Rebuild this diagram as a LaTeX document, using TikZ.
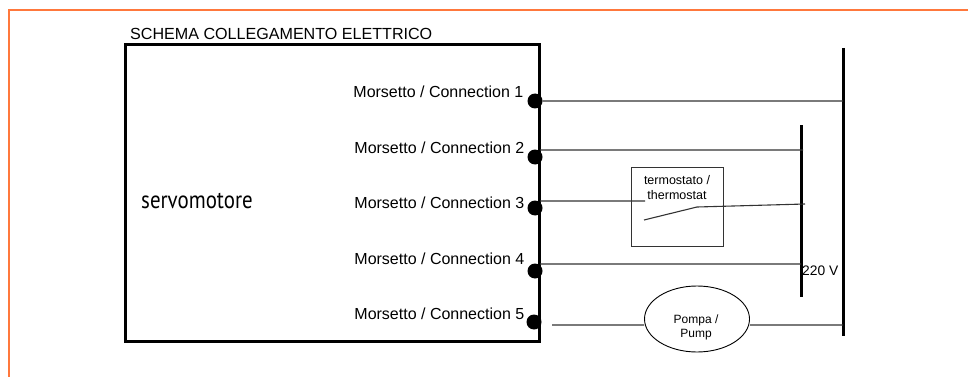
\documentclass[tikz,border=0pt]{standalone}
\usepackage{fontspec}
\setmainfont{Liberation Sans}
\newfontfamily\servofont[FakeStretch=0.85]{PT Sans}
\usetikzlibrary{positioning, calc, shapes.geometric}
\definecolor{framecol}{RGB}{255,120,60}

\begin{document}
\begin{tikzpicture}[x=1pt, y=-1pt,
    morsetto/.style={circle, fill=black, inner sep=0pt, minimum size=15pt},
    clabel/.style={font=\fontsize{16}{18}\selectfont, inner sep=0pt, anchor=east},
    wire/.style={draw=black!80, line width=1.1pt},
    bus/.style={draw=black, line width=3pt}
    ]
    \useasboundingbox (0,0) rectangle (968,377);
    \draw[framecol, line width=2pt] (968,10) -- (8.5,10) -- (8.5,377);

    \node[draw, line width=3pt, minimum width=414pt, minimum height=296pt, inner sep=0pt] (servo) at (332.5,193) {};
    \node[font=\fontsize{16.1}{18}\selectfont, inner sep=0pt, anchor=base west] (title) at (130,40) {SCHEMA COLLEGAMENTO ELETTRICO};
    \node[font=\servofont\fontsize{24.6}{26}\selectfont, inner sep=0pt, anchor=base west] (name) at (141,208) {servomotore};

    \node[morsetto] (T1) at (535,101) {};
    \node[morsetto] (T2) at (535,157) {};
    \node[morsetto] (T3) at (535,208) {};
    \node[morsetto] (T4) at (535,271) {};
    \node[morsetto] (T5) at (534,322) {};

    \node[clabel] (L1) at (523.5,92) {Morsetto / Connection 1};
    \node[clabel] (L2) at (524.5,147.5) {Morsetto / Connection 2};
    \node[clabel] (L3) at (524.5,203) {Morsetto / Connection 3};
    \node[clabel] (L4) at (524.5,258.5) {Morsetto / Connection 4};
    \node[clabel] (L5) at (524.5,314) {Morsetto / Connection 5};

    % the two supply bars
    \coordinate (BigTop) at (843,48);
    \coordinate (BigEnd) at (843,336);
    \coordinate (SmallTop) at (801,125);
    \coordinate (SmallEnd) at (801,297);
    \draw[bus] (BigTop) -- (BigEnd);
    \draw[bus] (SmallTop) -- (SmallEnd);
    \node[font=\fontsize{13.8}{15}\selectfont, inner sep=0pt, anchor=base west] (volt) at (802,275) {220 V};

    \node[draw=black!80, line width=1pt, minimum width=92pt, minimum height=79pt, inner sep=0pt] (box) at (677,206.5) {};
    \node[font=\fontsize{12.5}{15}\selectfont, align=center, inner sep=0pt] (thermo) at (677,188) {termostato /\\thermostat};

    \node[draw, ellipse, line width=0.9pt, minimum width=105pt, minimum height=66pt, inner sep=0pt] (pump) at (697,319) {};
    \node[font=\fontsize{12}{14}\selectfont, align=center, inner sep=0pt] (pumptext) at (696,327) {Pompa /\\Pump};

    \coordinate (A2) at (540,150);
    \coordinate (B2) at (803,150);
    \coordinate (A3) at (540,201);
    \coordinate (B3) at (645,201);
    \coordinate (S1) at (644,220);
    \coordinate (S2) at (697,207);
    \coordinate (S3) at (805,204);
    \coordinate (A4) at (540,264);
    \coordinate (A5) at (552,325);
    \coordinate (B5) at (843,325);

    \path[wire]
    (T1) -- (T1 -| BigTop)
    (A2) -- (B2)
    (A3) -- (B3)
    (S1) -- (S2) -- (S3)
    (A4) -- (A4 -| SmallTop)
    (A5) -- (A5 -| pump.west)
    (B5 -| pump.east) -- (B5)
    ;
\end{tikzpicture}
\end{document}
